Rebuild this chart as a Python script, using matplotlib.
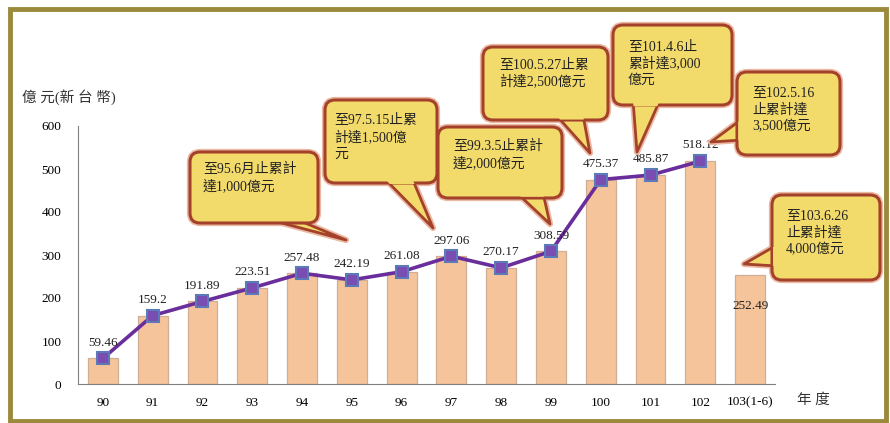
import matplotlib
matplotlib.use("Agg")
import matplotlib.pyplot as plt
from matplotlib.patches import Rectangle, FancyBboxPatch, Polygon
from matplotlib.transforms import IdentityTransform

plt.rcParams['font.family'] = ['Liberation Serif', 'Noto Sans CJK TC', 'DejaVu Sans']

categories = ['90', '91', '92', '93', '94', '95', '96', '97', '98', '99', '100', '101', '102', '103(1-6)']
values = [59.46, 159.2, 191.89, 223.51, 257.48, 242.19, 261.08, 297.06, 270.17, 308.59, 475.37, 485.87, 518.12, 252.49]
value_labels = ['59.46', '159.2', '191.89', '223.51', '257.48', '242.19', '261.08', '297.06', '270.17', '308.59',
                '475.37', '485.87', '518.12', '252.49']
line_count = 13  # line covers 90..102
y_ticks = [0, 100, 200, 300, 400, 500, 600]

callout_texts = [
    '至95.6月止累計\n達1,000億元',
    '至97.5.15止累\n計達1,500億\n元',
    '至99.3.5止累計\n達2,000億元',
    '至100.5.27止累\n計達2,500億元',
    '至101.4.6止\n累計達3,000\n億元',
    '至102.5.16\n止累計達\n3,500億元',
    '至103.6.26\n止累計達\n4,000億元',
]
# callout geometry in image pixels (origin top-left): box (l, t, r, b), text (left, first-line center y),
# tail base two points, tail tip
callout_boxes = [(190, 152, 318, 223), (325, 100, 437, 183), (438, 127, 562, 198), (483, 47, 608, 120),
                 (613, 25, 732, 105), (737, 72, 840, 155), (772, 195, 880, 280)]
callout_text_pos = [(203, 169), (334, 119), (453, 146), (499, 65), (628, 45), (752, 91), (786, 214)]
callout_tails = [((263, 218), (293, 218), (346, 240)),
                 ((384, 178), (412, 178), (433, 228)),
                 ((517, 193), (543, 193), (550, 224)),
                 ((556, 115), (583, 115), (590, 153)),
                 ((633, 100), (660, 100), (637, 152)),
                 ((742, 119), (742, 140), (711, 142)),
                 ((777, 245), (777, 266), (744, 264))]
LINE_STEP = 18.5

W, H = 890, 423
fig = plt.figure(figsize=(W / 100, H / 100), dpi=100)
fig.patch.set_facecolor('white')

# frame
fig.patches.append(Rectangle((10 / W, 2 / H), 876 / W, 412 / H, transform=fig.transFigure,
                             fill=False, ec='#9C8A3C', lw=3.5))

ax = fig.add_axes([78 / W, 1 - 384 / H, (775 - 78) / W, (384 - 126) / H])
ax.set_facecolor('none')
x = list(range(len(categories)))

ax.bar(x, values, width=0.6, color='#F6C49B', edgecolor='#CFAE95', lw=0.9, zorder=2)
ax.plot(x[:line_count], values[:line_count], color='#6A2D9C', lw=2.6, zorder=3,
        marker='s', markersize=9, mfc='#7A4DB2', mec='#5C79B8', mew=1.5)

for i, (v, lab) in enumerate(zip(values, value_labels)):
    if i < line_count:
        ax.annotate(lab, (i, v), xytext=(0, 7), textcoords='offset points', ha='center', va='bottom',
                    fontsize=9.5, color='#222222', zorder=5)
    else:
        ax.annotate(lab, (i, v), xytext=(0, -22), textcoords='offset points', ha='center', va='center',
                    fontsize=9.5, color='#222222', zorder=5)

ax.set_xlim(-0.5, 13.5)
ax.set_ylim(0, 600)
ax.set_xticks(x)
ax.set_xticklabels(categories, fontsize=9.5)
ax.set_yticks(y_ticks)
ax.set_yticklabels([str(t) for t in y_ticks], fontsize=9.5)
ax.tick_params(length=0, pad=9)
ax.tick_params(axis='y', pad=12)
for s in ['top', 'right']:
    ax.spines[s].set_visible(False)
ax.spines['left'].set_color('#808080')
ax.spines['bottom'].set_color('#808080')

fig.text(22 / W, 1 - 97 / H, '億 元(新 台 幣)', fontsize=10.5, va='center', ha='left', color='#333333')
fig.text(797 / W, 1 - 400 / H, '年 度', fontsize=10.5, va='center', ha='left', color='#333333')

yellow = '#F3DB6B'
brown = '#A4412A'
glow = '#EBB9A3'
ident = IdentityTransform()


def px(p):
    return (p[0], H - p[1])


for txt, box, tpos, tail in zip(callout_texts, callout_boxes, callout_text_pos, callout_tails):
    l, t, r, b = box
    tri = [px(tail[0]), px(tail[1]), px(tail[2])]
    # glow / outline layers
    fig.add_artist(Polygon(tri, closed=True, transform=ident, fc=yellow, ec=glow, lw=4.5, zorder=4,
                           joinstyle='round'))
    fig.add_artist(FancyBboxPatch((l, H - b), r - l, b - t, boxstyle='round,pad=0,rounding_size=10',
                                  transform=ident, fc='none', ec=glow, lw=4.5, zorder=4))
    fig.add_artist(Polygon(tri, closed=True, transform=ident, fc=yellow, ec=brown, lw=2, zorder=5,
                           joinstyle='round'))
    fig.add_artist(FancyBboxPatch((l, H - b), r - l, b - t, boxstyle='round,pad=0,rounding_size=10',
                                  transform=ident, fc=yellow, ec=brown, lw=2.2, zorder=6))
    # cover the box border where the tail joins
    (x1, y1), (x2, y2), (x3, y3) = tail
    inset = [px((x1 + (x1 - x3) * 0.12, y1 + (y1 - y3) * 0.12)),
             px((x2 + (x2 - x3) * 0.12, y2 + (y2 - y3) * 0.12)),
             px((x2 + (x3 - x2) * 0.12, y2 + (y3 - y2) * 0.12)),
             px((x1 + (x3 - x1) * 0.12, y1 + (y3 - y1) * 0.12))]
    fig.add_artist(Polygon(inset, closed=True, transform=ident, fc=yellow, ec='none', zorder=7))
    n_lines = txt.count('\n') + 1
    cy = tpos[1] + (n_lines - 1) * LINE_STEP / 2
    fig.text(tpos[0] / W, 1 - cy / H, txt, transform=fig.transFigure, ha='left', va='center',
             fontsize=10, color='#222222', linespacing=1.33, zorder=8)

fig.savefig('out.png', dpi=100)
